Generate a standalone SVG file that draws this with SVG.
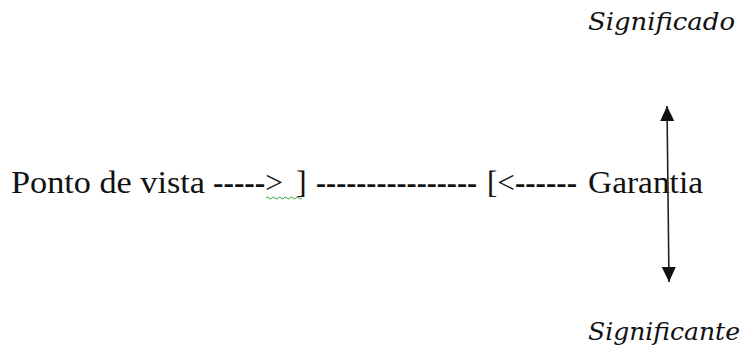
<svg xmlns="http://www.w3.org/2000/svg" width="744" height="345" viewBox="0 0 744 345">
<style>
.t{font-family:"Liberation Serif","Times New Roman",serif;font-size:32px;fill:#111}
.d{font-weight:bold}
.i{font-family:"DejaVu Serif","Liberation Serif",serif;font-style:italic;font-size:24px;fill:#111}
</style>
<defs>
<marker id="ah" viewBox="0 0 10 10" refX="10" refY="5" markerWidth="15" markerHeight="14" markerUnits="userSpaceOnUse" orient="auto-start-reverse" preserveAspectRatio="none">
<path d="M0,0 L10,5 L0,10 Z" fill="#111"/>
</marker>
</defs>
<rect width="744" height="345" fill="#fff"/>
<g id="ponto"><text class="t" x="11" y="193" textLength="194" lengthAdjust="spacingAndGlyphs">Ponto de vista</text></g>
<g id="seta1"><text class="t" x="213" y="193" textLength="70" lengthAdjust="spacingAndGlyphs"><tspan class="d">-----</tspan>&gt;</text>
<path d="M266,198 q1.5,-2 3,0 t3,0 t3,0 t3,0 t3,0 t3,0 t3,0 t3,0 t3,0 t3,0 t3,0 t3,0" fill="none" stroke="#3a9a3a" stroke-width="1"/></g>
<g id="colchete1"><text class="t" x="296" y="193">]</text></g>
<g id="meio"><text class="t d" x="316" y="193" textLength="161" lengthAdjust="spacingAndGlyphs">----------------</text></g>
<g id="seta2"><text class="t" x="487" y="193" textLength="90" lengthAdjust="spacingAndGlyphs">[&lt;<tspan class="d">------</tspan></text></g>
<g id="garantia"><text class="t" x="588" y="193" textLength="115" lengthAdjust="spacingAndGlyphs">Garantia</text></g>
<g id="significado"><text class="i" x="588" y="30" textLength="147" lengthAdjust="spacingAndGlyphs">Significado</text></g>
<g id="significante"><text class="i" x="588" y="340" textLength="152" lengthAdjust="spacingAndGlyphs">Significante</text></g>
<g id="connectors">
<line x1="667" y1="106" x2="669" y2="282" stroke="#222" stroke-width="1.6" marker-start="url(#ah)" marker-end="url(#ah)"/>
</g>
</svg>
